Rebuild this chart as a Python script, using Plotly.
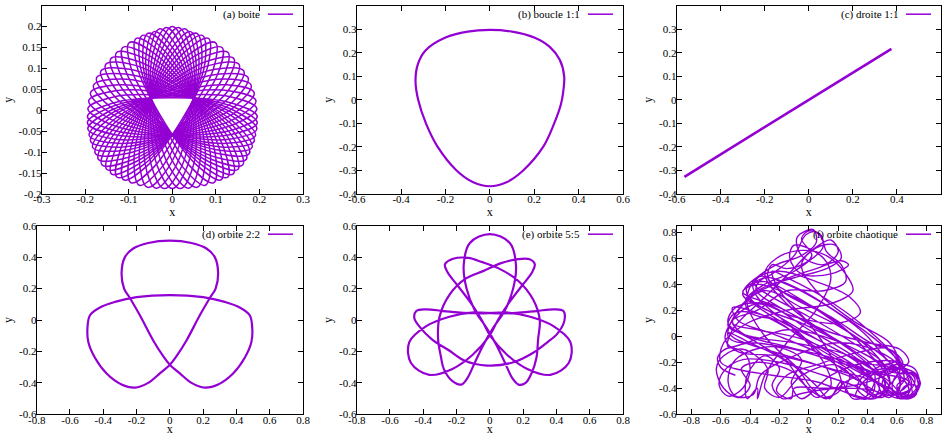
import plotly.graph_objects as go

VIOLET = "#9400d3"
POLICE = "Liberation Serif, Times New Roman, DejaVu Serif, serif"
LARGEUR, HAUTEUR = 944, 436

# ---------------- données ----------------

# (a) boite : boucles successives de l'orbite, 8 points (x, y) par boucle
boite_boucles = [
    [(.195, -.015), (.138, .017), (0, .030), (-.138, .017), (-.195, -.015), (-.138, -.047), (0, -.060), (.138, -.047)],
    [(.194, .004), (.135, .032), (-.003, .034), (-.141, .008), (-.195, -.030), (-.135, -.058), (.005, -.060), (.141, -.034)],
    [(.192, .023), (.130, .047), (-.007, .038), (-.143, -.001), (-.194, -.045), (-.131, -.069), (.010, -.058), (.142, -.021)],
    [(.188, .042), (.124, .061), (-.011, .040), (-.144, -.010), (-.191, -.060), (-.125, -.079), (.015, -.056), (.142, -.007)],
    [(.181, .060), (.117, .075), (-.016, .043), (-.145, -.020), (-.188, -.074), (-.120, -.088), (.019, -.053), (.141, .007)],
    [(.174, .078), (.108, .087), (-.020, .044), (-.144, -.031), (-.183, -.089), (-.113, -.096), (.023, -.049), (.139, .021)],
    [(.164, .094), (.098, .098), (-.026, .044), (-.143, -.041), (-.177, -.103), (-.107, -.104), (.026, -.045), (.134, .035)],
    [(.153, .110), (.087, .108), (-.031, .044), (-.141, -.052), (-.170, -.117), (-.100, -.112), (.028, -.040), (.129, .048)],
    [(.141, .124), (.076, .116), (-.035, .042), (-.138, -.063), (-.162, -.130), (-.092, -.118), (.030, -.035), (.122, .062)],
    [(.128, .138), (.064, .124), (-.040, .040), (-.133, -.074), (-.151, -.141), (-.084, -.123), (.030, -.030), (.114, .074)],
    [(.114, .150), (.052, .130), (-.044, .037), (-.127, -.084), (-.140, -.152), (-.075, -.127), (.030, -.025), (.104, .086)],
    [(.099, .162), (.040, .135), (-.048, .033), (-.119, -.093), (-.127, -.160), (-.066, -.130), (.028, -.020), (.094, .098)],
    [(.083, .172), (.028, .139), (-.051, .029), (-.110, -.100), (-.112, -.166), (-.056, -.131), (.026, -.015), (.082, .108)],
    [(.069, .179), (.017, .141), (-.053, .025), (-.099, -.107), (-.095, -.173), (-.041, -.134), (.030, -.014), (.075, .114)],
    [(.056, .184), (.006, .143), (-.054, .020), (-.088, -.114), (-.076, -.179), (-.025, -.137), (.035, -.013), (.068, .120)],
    [(.042, .188), (-.005, .143), (-.054, .015), (-.076, -.120), (-.057, -.184), (-.010, -.138), (.039, -.011), (.061, .125)],
    [(.029, .195), (-.016, .142), (-.054, .009), (-.063, -.125), (-.038, -.186), (.006, -.137), (.043, -.008), (.053, .130)],
    [(.014, .198), (-.026, .141), (-.052, .005), (-.049, -.129), (-.019, -.187), (.021, -.135), (.047, -.004), (.045, .134)],
    [(0, .200), (-.035, .139), (-.050, 0), (-.035, -.132), (0, -.187), (.035, -.132), (.050, 0), (.035, .139)],
    [(-.014, .198), (.026, .141), (.052, .005), (.049, -.129), (.019, -.187), (-.021, -.135), (-.047, -.004), (-.045, .134)],
    [(-.029, .195), (.016, .142), (.054, .009), (.063, -.125), (.038, -.186), (-.006, -.137), (-.043, -.008), (-.053, .130)],
    [(-.042, .188), (.005, .143), (.054, .015), (.076, -.120), (.057, -.184), (.010, -.138), (-.039, -.011), (-.061, .125)],
    [(-.056, .184), (-.006, .143), (.054, .020), (.088, -.114), (.076, -.179), (.025, -.137), (-.035, -.013), (-.068, .120)],
    [(-.069, .179), (-.017, .141), (.053, .025), (.099, -.107), (.095, -.173), (.041, -.134), (-.030, -.014), (-.075, .114)],
    [(-.083, .172), (-.028, .139), (.051, .029), (.110, -.100), (.112, -.166), (.056, -.131), (-.026, -.015), (-.082, .108)],
    [(-.099, .162), (-.040, .135), (.048, .033), (.119, -.093), (.127, -.160), (.066, -.130), (-.028, -.020), (-.094, .098)],
    [(-.114, .150), (-.052, .130), (.044, .037), (.127, -.084), (.140, -.152), (.075, -.127), (-.030, -.025), (-.104, .086)],
    [(-.128, .138), (-.064, .124), (.040, .040), (.133, -.074), (.151, -.141), (.084, -.123), (-.030, -.030), (-.114, .074)],
    [(-.141, .124), (-.076, .116), (.035, .042), (.138, -.063), (.162, -.130), (.092, -.118), (-.030, -.035), (-.122, .062)],
    [(-.153, .110), (-.087, .108), (.031, .044), (.141, -.052), (.170, -.117), (.100, -.112), (-.028, -.040), (-.129, .048)],
    [(-.164, .094), (-.098, .098), (.026, .044), (.143, -.041), (.177, -.103), (.107, -.104), (-.026, -.045), (-.134, .035)],
    [(-.174, .078), (-.108, .087), (.020, .044), (.144, -.031), (.183, -.089), (.113, -.096), (-.023, -.049), (-.139, .021)],
    [(-.181, .060), (-.117, .075), (.016, .043), (.145, -.020), (.188, -.074), (.120, -.088), (-.019, -.053), (-.141, .007)],
    [(-.188, .042), (-.124, .061), (.011, .040), (.144, -.010), (.191, -.060), (.125, -.079), (-.015, -.056), (-.142, -.007)],
    [(-.192, .023), (-.130, .047), (.007, .038), (.143, -.001), (.194, -.045), (.131, -.069), (-.010, -.058), (-.142, -.021)],
    [(-.194, .004), (-.135, .032), (.003, .034), (.141, .008), (.195, -.030), (.135, -.058), (-.005, -.060), (-.141, -.034)],
]

# (b) boucle 1:1
boucle = [(0.0, 0.297), (0.1, 0.29), (0.2, 0.265), (0.27, 0.225), (0.315, 0.17), (0.335, 0.1),
          (0.33, 0.03), (0.32, -0.02), (0.29, -0.1), (0.24, -0.2), (0.15, -0.3), (0.075, -0.35),
          (0.0, -0.367), (-0.075, -0.35), (-0.15, -0.3), (-0.235, -0.2), (-0.288, -0.1), (-0.323, 0.0),
          (-0.335, 0.08), (-0.325, 0.15), (-0.29, 0.21), (-0.2, 0.265), (-0.1, 0.29), (0.0, 0.297)]

# (c) droite 1:1
droite = [(-0.565, -0.327), (0.375, 0.217)]

# (d) orbite 2:2
orbite22 = [(0.0, 0.505), (0.13, 0.49), (0.22, 0.455), (0.27, 0.4), (0.29, 0.3), (0.275, 0.2), (0.24, 0.14),
            (0.18, 0.03), (0.1, -0.13), (0.04, -0.23), (0.0, -0.285), (-0.06, -0.34), (-0.13, -0.4),
            (-0.21, -0.43), (-0.29, -0.41), (-0.38, -0.34), (-0.45, -0.24), (-0.49, -0.14), (-0.495, -0.05),
            (-0.48, 0.03), (-0.42, 0.08), (-0.33, 0.115), (-0.2, 0.145), (0.0, 0.158), (0.2, 0.145),
            (0.33, 0.115), (0.42, 0.08), (0.48, 0.03), (0.495, -0.05), (0.49, -0.14), (0.45, -0.24),
            (0.38, -0.34), (0.29, -0.41), (0.21, -0.43), (0.13, -0.4), (0.06, -0.34), (0.0, -0.285),
            (-0.04, -0.23), (-0.1, -0.13), (-0.18, 0.03), (-0.24, 0.14), (-0.275, 0.2), (-0.29, 0.3),
            (-0.27, 0.4), (-0.22, 0.455), (-0.13, 0.49), (0.0, 0.505)]

# (e) orbite 5:5, parcourue morceau par morceau
o55_lobe_haut = [(-0.172, -0.411), (-0.135, -0.37), (-0.09, -0.27), (-0.04, -0.16), (0.02, -0.05), (0.09, 0.06),
                 (0.14, 0.2), (0.157, 0.35), (0.12, 0.49), (0.0, 0.547), (-0.12, 0.49), (-0.157, 0.35),
                 (-0.14, 0.2), (-0.09, 0.06), (-0.02, -0.05), (0.04, -0.16), (0.09, -0.27), (0.135, -0.37),
                 (0.172, -0.411)]
o55_arc_1 = [(0.215, -0.40), (0.25, -0.34), (0.28, -0.24), (0.29, -0.12), (0.30, 0.0), (0.26, 0.13), (0.17, 0.25),
             (0.05, 0.33), (-0.05, 0.37), (-0.13, 0.395), (-0.22, 0.39)]
o55_lobe_droit = [(-0.270, 0.354), (-0.253, 0.302), (-0.189, 0.213), (-0.119, 0.115), (-0.053, 0.008), (0.007, -0.108),
                  (0.103, -0.221), (0.225, -0.311), (0.364, -0.349), (0.474, -0.274), (0.484, -0.141), (0.382, -0.039),
                  (0.243, 0.021), (0.097, 0.048), (-0.033, 0.042), (-0.159, 0.045), (-0.279, 0.057), (-0.388, 0.068),
                  (-0.442, 0.057)]
o55_arc_2 = [(-0.454, 0.014), (-0.419, -0.047), (-0.348, -0.123), (-0.249, -0.191), (-0.15, -0.26), (-0.017, -0.290),
             (0.132, -0.272), (0.261, -0.208), (0.345, -0.142), (0.407, -0.085), (0.448, -0.004)]
o55_lobe_gauche = [(0.442, 0.057), (0.388, 0.068), (0.279, 0.057), (0.159, 0.045), (0.033, 0.042), (-0.097, 0.048),
                   (-0.243, 0.021), (-0.382, -0.039), (-0.484, -0.141), (-0.474, -0.274), (-0.364, -0.349),
                   (-0.225, -0.311), (-0.103, -0.221), (-0.007, -0.108), (0.053, 0.008), (0.119, 0.115),
                   (0.189, 0.213), (0.253, 0.302), (0.270, 0.354)]
o55_arc_3 = [(0.239, 0.386), (0.169, 0.387), (0.068, 0.362), (-0.041, 0.311), (-0.15, 0.26), (-0.243, 0.160),
             (-0.302, 0.022), (-0.311, -0.122), (-0.295, -0.228), (-0.277, -0.311), (-0.228, -0.386), (-0.172, -0.411)]

# (f) orbite chaotique
chaos = [(-0.50, -0.30), (-0.60, -0.24), (-0.62, -0.16), (-0.55, -0.09), (-0.44, -0.13), (-0.40, -0.25), (-0.45, -0.40),
         (-0.55, -0.46), (-0.61, -0.38), (-0.58, -0.27), (-0.45, -0.18), (-0.20, -0.20), (0.10, -0.30), (0.35, -0.40),
         (0.46, -0.47), (0.52, -0.40), (0.46, -0.25), (0.22, -0.05), (-0.10, 0.16), (-0.36, 0.36), (-0.30, 0.45),
         (-0.08, 0.37), (0.20, 0.18), (0.45, -0.02), (0.62, -0.20), (0.70, -0.36), (0.66, -0.46), (0.57, -0.41),
         (0.60, -0.30), (0.72, -0.30), (0.74, -0.42), (0.63, -0.47), (0.48, -0.36), (0.25, -0.20), (-0.05, 0.00),
         (-0.35, 0.18), (-0.52, 0.22), (-0.48, 0.12), (-0.25, 0.02), (0.05, -0.12), (0.30, -0.28), (0.40, -0.45),
         (0.30, -0.48), (0.22, -0.35), (0.14, -0.48), (0.05, -0.38), (-0.10, -0.22), (-0.30, 0.00), (-0.42, 0.25),
         (-0.38, 0.42), (-0.22, 0.55), (-0.05, 0.62), (0.05, 0.72), (0.03, 0.82), (-0.08, 0.76), (-0.05, 0.62),
         (0.10, 0.55), (0.20, 0.65), (0.15, 0.74), (0.02, 0.66), (-0.12, 0.50), (-0.30, 0.30), (-0.52, 0.05),
         (-0.55, -0.08), (-0.40, -0.05), (-0.10, -0.10), (0.20, -0.20), (0.50, -0.28), (0.68, -0.20), (0.62, -0.10),
         (0.40, -0.05), (0.10, 0.05), (-0.20, 0.22), (-0.45, 0.34), (-0.35, 0.40), (-0.10, 0.30), (0.18, 0.12),
         (0.40, -0.12), (0.55, -0.35), (0.50, -0.47), (0.40, -0.40), (0.42, -0.28), (0.55, -0.22), (0.62, -0.38),
         (0.55, -0.47), (0.45, -0.42), (0.20, -0.40), (-0.05, -0.44), (-0.18, -0.48), (-0.25, -0.38), (-0.20, -0.25),
         (-0.30, -0.15), (-0.42, -0.30), (-0.42, -0.48), (-0.35, -0.40), (-0.35, -0.48), (-0.30, -0.30), (-0.15, -0.05),
         (0.05, 0.20), (0.15, 0.45), (0.10, 0.60), (-0.10, 0.70), (-0.13, 0.60), (-0.05, 0.48), (0.15, 0.48),
         (0.27, 0.55), (0.22, 0.58), (0.05, 0.52), (-0.20, 0.42), (-0.45, 0.25), (-0.55, 0.00), (-0.45, -0.05),
         (-0.15, 0.05), (0.15, -0.02), (0.40, -0.15), (0.58, -0.28), (0.70, -0.28), (0.76, -0.36), (0.70, -0.45),
         (0.60, -0.42), (0.65, -0.33), (0.58, -0.15), (0.35, 0.10), (0.10, 0.30), (-0.15, 0.45), (-0.25, 0.50),
         (-0.20, 0.35), (0.00, 0.10), (0.15, -0.15), (0.22, -0.40), (0.10, -0.47), (-0.05, -0.35), (-0.15, -0.20),
         (-0.40, -0.05), (-0.55, 0.03), (-0.50, -0.02), (-0.30, -0.10), (0.00, -0.20), (0.30, -0.32), (0.52, -0.45),
         (0.70, -0.40), (0.72, -0.32), (0.60, -0.25), (0.40, -0.32), (0.32, -0.46), (0.40, -0.48),
         (0.45, -0.38), (0.35, -0.22), (0.10, -0.05), (-0.20, 0.12), (-0.40, 0.28), (-0.42, 0.38), (-0.30, 0.42),
         (-0.05, 0.28), (0.25, 0.05), (0.50, -0.15), (0.62, -0.30), (0.60, -0.44), (0.50, -0.44), (0.48, -0.32),
         (0.58, -0.22), (0.72, -0.25), (0.75, -0.40), (0.68, -0.47), (0.55, -0.40), (0.30, -0.25), (0.00, -0.05),
         (-0.28, 0.15), (-0.50, 0.18), (-0.55, 0.08), (-0.40, 0.00), (-0.10, -0.05), (0.20, -0.12), (0.45, -0.22),
         (0.60, -0.18), (0.55, -0.05), (0.30, 0.12), (0.05, 0.35), (-0.05, 0.55), (0.05, 0.68), (0.18, 0.70),
         (0.22, 0.60), (0.12, 0.52), (-0.10, 0.45), (-0.30, 0.38), (-0.40, 0.30), (-0.32, 0.22), (-0.05, 0.10),
         (0.25, -0.08), (0.45, -0.30), (0.38, -0.47), (0.25, -0.42), (0.28, -0.30), (0.18, -0.22), (-0.05, -0.30),
         (-0.20, -0.47), (-0.30, -0.40), (-0.28, -0.25), (-0.45, -0.10), (-0.58, -0.15), (-0.63, -0.25), (-0.58, -0.40),
         (-0.48, -0.47), (-0.40, -0.38), (-0.46, -0.25), (-0.35, -0.20), (-0.10, -0.28), (0.05, -0.47), (0.15, -0.38),
         (0.10, -0.20), (-0.10, 0.05), (-0.35, 0.30), (-0.38, 0.40), (-0.25, 0.48), (-0.10, 0.62), (-0.02, 0.78),
         (0.05, 0.80), (0.10, 0.70), (0.00, 0.58), (-0.15, 0.52), (-0.25, 0.55), (-0.28, 0.45), (-0.15, 0.32),
         (0.15, 0.15), (0.42, -0.05), (0.58, -0.12), (0.64, -0.22), (0.52, -0.30), (0.30, -0.38), (0.10, -0.40),
         (-0.10, -0.40), (-0.12, -0.48), (-0.22, -0.42), (-0.15, -0.30), (0.05, -0.22), (0.35, -0.12), (0.55, -0.10),
         (0.66, -0.28), (0.70, -0.45), (0.62, -0.45), (0.66, -0.38), (0.73, -0.38), (0.72, -0.46), (0.58, -0.47),
         (0.50, -0.38), (0.52, -0.25), (0.40, -0.08), (0.20, 0.08), (-0.05, 0.22), (-0.30, 0.35), (-0.48, 0.20),
         (-0.52, 0.10), (-0.35, 0.05), (-0.05, -0.02), (0.25, -0.18), (0.48, -0.40), (0.42, -0.48), (0.33, -0.40),
         (0.38, -0.30), (0.55, -0.30), (0.68, -0.35), (0.62, -0.42),
         (0.55, -0.35), (0.35, -0.20), (0.05, -0.02), (-0.25, 0.18), (-0.45, 0.32), (-0.37, 0.44), (-0.20, 0.50),
         (0.05, 0.42), (0.28, 0.30), (0.35, 0.18), (0.20, 0.10), (-0.10, 0.15), (-0.35, 0.25), (-0.50, 0.15),
         (-0.57, -0.02), (-0.48, -0.12), (-0.20, -0.15), (0.15, -0.25), (0.45, -0.35), (0.58, -0.45), (0.68, -0.42),
         (0.62, -0.30), (0.45, -0.18), (0.15, 0.00), (-0.15, 0.25), (-0.30, 0.48), (-0.22, 0.60), (-0.05, 0.66),
         (0.12, 0.62), (0.25, 0.48), (0.30, 0.35), (0.15, 0.25), (-0.15, 0.20), (-0.42, 0.10), (-0.58, -0.05),
         (-0.60, -0.20), (-0.50, -0.25), (-0.25, -0.30), (0.05, -0.35), (0.30, -0.45), (0.45, -0.48), (0.55, -0.38),
         (0.50, -0.20), (0.30, -0.05), (0.00, 0.15), (-0.28, 0.32), (-0.37, 0.40), (-0.33, 0.46), (-0.15, 0.40),
         (0.10, 0.25), (0.38, 0.02), (0.55, -0.20), (0.70, -0.32), (0.73, -0.45), (0.65, -0.48), (0.60, -0.38),
         (0.68, -0.30), (0.60, -0.20), (0.40, -0.20), (0.15, -0.30), (-0.05, -0.48), (-0.12, -0.36), (-0.05, -0.18),
         (-0.25, -0.08), (-0.50, -0.18), (-0.55, -0.35), (-0.50, -0.46), (-0.38, -0.45), (-0.33, -0.30), (-0.10, -0.15),
         (0.20, -0.05), (0.48, -0.12), (0.62, -0.25), (0.57, -0.35), (0.45, -0.45), (0.35, -0.35), (0.10, -0.15),
         (-0.15, 0.10), (-0.40, 0.18), (-0.43, 0.28), (-0.30, 0.40), (-0.10, 0.50), (0.02, 0.62), (-0.05, 0.75),
         (0.00, 0.81), (0.08, 0.78), (0.12, 0.65), (0.22, 0.55), (0.25, 0.42), (0.10, 0.35), (-0.15, 0.35),
         (-0.35, 0.20), (-0.52, 0.12), (-0.45, 0.02), (-0.15, -0.08), (0.20, -0.18), (0.50, -0.32), (0.62, -0.48),
         (0.72, -0.42), (0.75, -0.32), (0.66, -0.25), (0.50, -0.25), (0.25, -0.35), (0.12, -0.48), (0.02, -0.40),
         (-0.08, -0.25), (-0.35, -0.05), (-0.55, 0.10), (-0.50, 0.22), (-0.30, 0.25), (0.00, 0.05), (0.30, -0.15),
         (0.52, -0.35), (0.48, -0.47), (0.38, -0.42)]

legendes = ["(a) boite", "(b) boucle 1:1", "(c) droite 1:1", "(d) orbite 2:2", "(e) orbite 5:5", "(f) orbite chaotique"]

# axes : bornes et textes des graduations
bornes_x = [(-0.3, 0.3), (-0.6, 0.6), (-0.6, 0.6), (-0.8, 0.8), (-0.8, 0.8), (-0.9, 0.9)]
bornes_y = [(-0.2, 0.25), (-0.4, 0.4), (-0.4, 0.4), (-0.6, 0.6), (-0.6, 0.6), (-0.6, 0.85)]
grad_x = [
    ["-0.3", "-0.2", "-0.1", "0", "0.1", "0.2", "0.3"],
    ["-0.6", "-0.4", "-0.2", "0", "0.2", "0.4", "0.6"],
    ["-0.6", "-0.4", "-0.2", "0", "0.2", "0.4", "0.6"],
    ["-0.8", "-0.6", "-0.4", "-0.2", "0", "0.2", "0.4", "0.6", "0.8"],
    ["-0.8", "-0.6", "-0.4", "-0.2", "0", "0.2", "0.4", "0.6", "0.8"],
    ["-0.8", "-0.6", "-0.4", "-0.2", "0", "0.2", "0.4", "0.6", "0.8"],
]
grad_y = [
    ["-0.2", "-0.15", "-0.1", "-0.05", "0", "0.05", "0.1", "0.15", "0.2", "0.25"],
    ["-0.4", "-0.3", "-0.2", "-0.1", "0", "0.1", "0.2", "0.3", "0.4"],
    ["-0.4", "-0.3", "-0.2", "-0.1", "0", "0.1", "0.2", "0.3", "0.4"],
    ["-0.6", "-0.4", "-0.2", "0", "0.2", "0.4", "0.6"],
    ["-0.6", "-0.4", "-0.2", "0", "0.2", "0.4", "0.6"],
    ["-0.6", "-0.4", "-0.2", "0", "0.2", "0.4", "0.6", "0.8"],
]

# ---------------- mise en page (pixels -> fraction de la page) ----------------
cadres_px = [  # (gauche, droite, haut, bas)
    (41.7, 303.0, 5.7, 194.0), (356.7, 623.0, 5.7, 194.0), (676.7, 941.0, 5.7, 194.0),
    (36.7, 303.0, 225.7, 414.3), (356.7, 623.0, 225.7, 414.3), (676.7, 941.0, 225.7, 414.3),
]


def chemin(points):
    return [p[0] for p in points], [p[1] for p in points]


def boucles(liste):
    xs, ys = [], []
    for b in liste:
        tour = b[2:] + b[:3]
        xs += [p[0] for p in tour] + [None]
        ys += [p[1] for p in tour] + [None]
    return xs, ys


series = [
    boucles(boite_boucles),
    chemin(boucle),
    chemin(droite),
    chemin(orbite22),
    chemin(o55_lobe_haut + o55_arc_1 + o55_lobe_droit + o55_arc_2 + o55_lobe_gauche + o55_arc_3),
    chemin(chaos),
]
epaisseurs = [1.5, 2.2, 2.6, 2.2, 2.2, 1.4]

fig = go.Figure()
police_grad = dict(family=POLICE, size=11, color="black")
annotations, formes = [], []

for i, ((xs, ys), leg) in enumerate(zip(series, legendes)):
    n = "" if i == 0 else str(i + 1)
    fig.add_trace(go.Scatter(
        x=xs, y=ys, mode="lines", xaxis="x" + n, yaxis="y" + n,
        line=dict(color=VIOLET, width=epaisseurs[i], shape="spline" if i != 2 else "linear", smoothing=1.0),
        connectgaps=False, showlegend=False, hoverinfo="skip",
    ))
    g, d, h, b = cadres_px[i]
    dom_x = [g / LARGEUR, d / LARGEUR]
    dom_y = [1 - b / HAUTEUR, 1 - h / HAUTEUR]
    tx = [float(t) for t in grad_x[i]]
    ty = [float(t) for t in grad_y[i]]
    commun = dict(showgrid=False, zeroline=False, showline=True, linecolor="black", linewidth=1,
                  mirror="allticks", ticks="inside", ticklen=5, tickwidth=1, tickcolor="black",
                  tickfont=police_grad, automargin=False)
    fig.layout["xaxis" + n] = dict(commun, domain=dom_x, range=list(bornes_x[i]), anchor="y" + n,
                                   tickvals=tx, ticktext=grad_x[i], ticklabelstandoff=-5,
                                   title=dict(text="x", font=dict(family=POLICE, size=12, color="black"), standoff=0))
    fig.layout["yaxis" + n] = dict(commun, domain=dom_y, range=list(bornes_y[i]), anchor="x" + n,
                                   tickvals=ty, ticktext=grad_y[i], ticklabelstandoff=-3,
                                   title=dict(text="y", font=dict(family=POLICE, size=12, color="black"), standoff=3))
    larg = d - g
    haut_leg = 1 - 8.5 / (b - h)
    formes.append(dict(type="line", xref="x" + n + " domain", yref="y" + n + " domain",
                       x0=1 - 35 / larg, x1=1 - 10 / larg, y0=haut_leg, y1=haut_leg,
                       line=dict(color=VIOLET, width=1.5)))
    annotations.append(dict(text=leg, xref="x" + n + " domain", yref="y" + n + " domain",
                            x=1 - 41 / larg, y=haut_leg, xanchor="right", yanchor="middle",
                            showarrow=False, font=dict(family=POLICE, size=11, color="black")))

fig.update_layout(
    width=LARGEUR, height=HAUTEUR,
    margin=dict(l=0, r=0, t=0, b=0),
    paper_bgcolor="white", plot_bgcolor="white",
    annotations=annotations, shapes=formes,
    showlegend=False,
)

# la page html ajoute une marge de 8 px autour du graphique : on la retire
fig.write_html("out.html", config={"displayModeBar": False},
               post_script="document.body.style.margin='0';")
